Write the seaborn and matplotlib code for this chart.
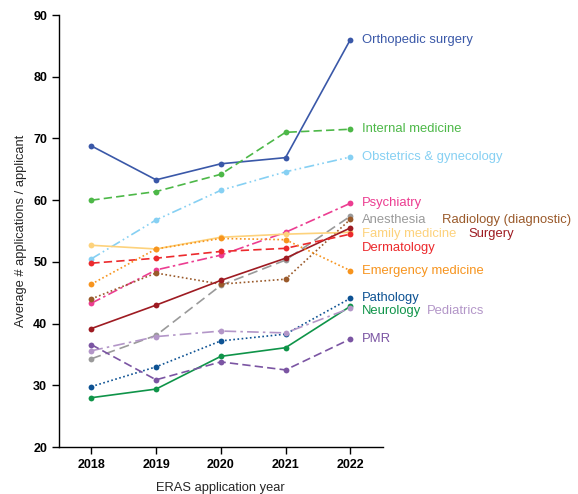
import matplotlib
matplotlib.use("Agg")
import matplotlib.pyplot as plt
import seaborn as sns
import pandas as pd

years = [2018, 2019, 2020, 2021, 2022]

specialties = [
    "Orthopedic surgery", "Internal medicine", "Obstetrics & gynecology",
    "Psychiatry", "Anesthesia", "Radiology (diagnostic)", "Family medicine",
    "Surgery", "Dermatology", "Emergency medicine", "Pathology",
    "Neurology", "Pediatrics", "PMR",
]

orthopedic = [68.8, 63.3, 65.9, 66.9, 86.0]
internal_med = [60.0, 61.4, 64.2, 71.0, 71.5]
obgyn = [50.5, 56.8, 61.6, 64.6, 67.0]
psychiatry = [43.3, 48.7, 51.1, 54.8, 59.5]
anesthesia = [34.3, 38.1, 46.2, 50.3, 57.4]
radiology = [44.0, 48.2, 46.4, 47.2, 56.9]
family_med = [52.7, 52.1, 54.0, 54.5, 54.8]
surgery = [39.2, 43.0, 47.0, 50.6, 55.5]
dermatology = [49.8, 50.6, 51.7, 52.2, 54.5]
emergency = [46.4, 52.1, 53.8, 53.6, 48.6]
pathology = [29.8, 33.0, 37.2, 38.3, 44.1]
neurology = [28.0, 29.4, 34.7, 36.1, 42.8]
pediatrics = [35.6, 37.9, 38.8, 38.5, 42.5]
pmr = [36.6, 30.9, 33.8, 32.5, 37.5]

values = [orthopedic, internal_med, obgyn, psychiatry, anesthesia, radiology,
          family_med, surgery, dermatology, emergency, pathology, neurology,
          pediatrics, pmr]

colors = ["#3a58a8", "#4db848", "#86d0f3", "#ec3d91", "#9a9a9a", "#9a5a2b",
          "#fdd27c", "#9e1b22", "#ec2a2d", "#f7941e", "#0d5293", "#0f9449",
          "#b396c8", "#7b55a3"]

styles = ["-", (0, (5, 2.5)), (0, (6, 2, 1, 2, 1, 2)), (0, (6, 2, 1.5, 2)),
          (0, (6, 3)), (0, (1, 1.5)), "-", "-", (0, (5, 2.5)), (0, (1, 1.5)),
          (0, (1, 1.5)), "-", (0, (7, 2.5, 1.5, 2.5)), (0, (5, 2.5))]

# label placement (y in data units, x offset in pixels from 2022 point)
label_y = [86.0, 71.5, 67.0, 59.5, 56.8, 56.8, 54.5, 54.5, 52.2, 48.6,
           44.1, 42.0, 42.0, 37.5]
label_dx = [12, 12, 12, 12, 12, 92, 12, 118, 12, 12, 12, 12, 77, 12]

sns.set_style("ticks")
plt.rcParams['font.family'] = ['Liberation Sans', 'DejaVu Sans']

fig = plt.figure(figsize=(5.78, 4.94), dpi=100)
ax = fig.add_axes([0.102, 0.095, 0.560, 0.8745])

for name, vals, c, ls in zip(specialties, values, colors, styles):
    df = pd.DataFrame({"year": years, "val": vals})
    sns.lineplot(data=df, x="year", y="val", color=c, marker="o",
                 markersize=4.2, markeredgewidth=0, linewidth=1.2,
                 linestyle=ls, ax=ax)

for name, vals, c, ly, dx in zip(specialties, values, colors, label_y, label_dx):
    ax.annotate(name, xy=(years[-1], ly), xytext=(dx, 0),
                textcoords="offset pixels", color=c, fontsize=9.4,
                va="center", ha="left", annotation_clip=False)

ax.set_xlim(2017.5, 2022.5)
ax.set_ylim(20, 90)
ax.set_xticks(years)
ax.set_xticklabels([str(y) for y in years], fontweight="bold", fontsize=9)
ax.set_yticks(range(20, 91, 10))
ax.set_yticklabels([str(v) for v in range(20, 91, 10)], fontweight="bold", fontsize=9)
ax.set_xlabel("ERAS application year", fontsize=9.3, labelpad=8)
ax.set_ylabel("Average # applications / applicant", fontsize=9.3, labelpad=4)
ax.tick_params(direction="out", length=5, width=1, colors="black")
for s in ["left", "bottom"]:
    ax.spines[s].set_color("black")
    ax.spines[s].set_linewidth(1)
sns.despine(ax=ax)

fig.savefig("out.png", dpi=100)
